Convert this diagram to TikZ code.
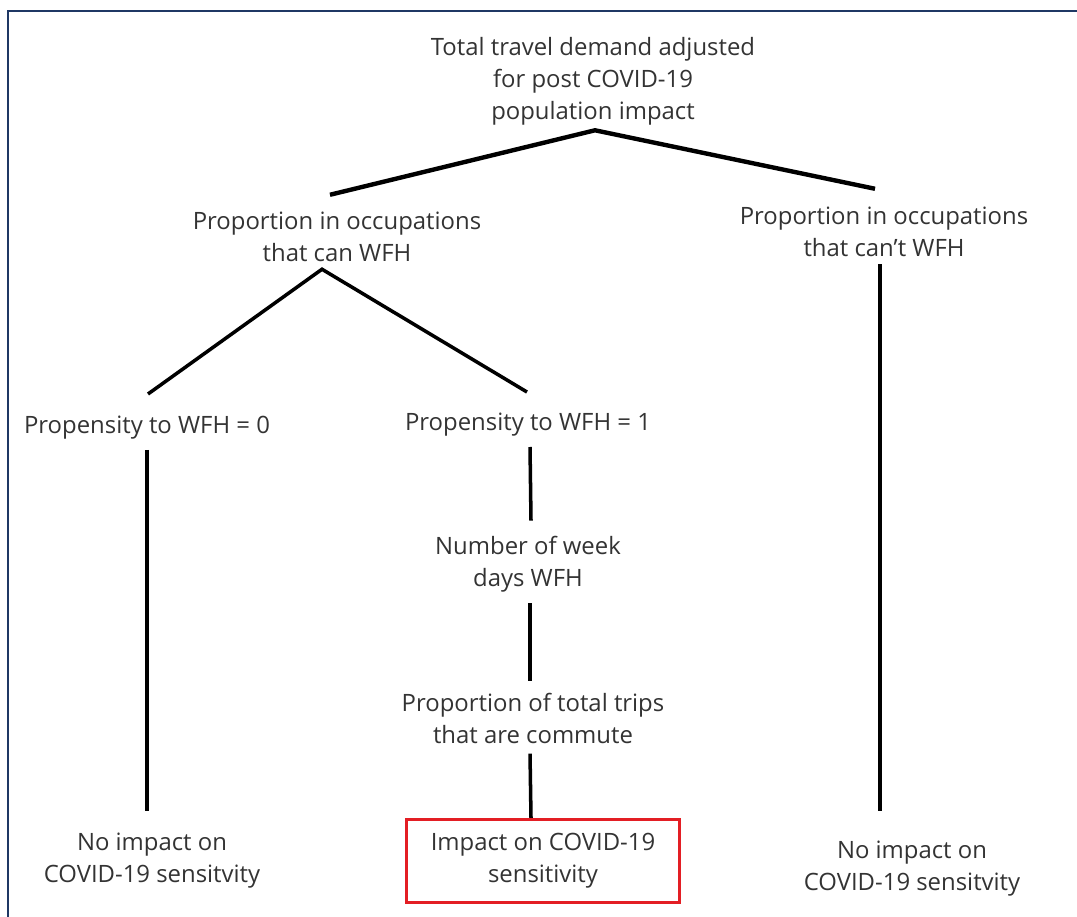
\documentclass[tikz,border=0pt]{standalone}
\usepackage{fontspec}
\setmainfont{Open Sans}
\usetikzlibrary{positioning}
\definecolor{txtgray}{HTML}{333333}
\definecolor{framenavy}{HTML}{1F3864}
\definecolor{boxred}{HTML}{E31E24}

\begin{document}
\begin{tikzpicture}[x=0.02cm,y=-0.02cm,
  every node/.style={font=\fontsize{13.6}{18.2}\selectfont,text=txtgray,align=center,inner sep=0pt},
  trunk/.style={line width=2.5pt},
  link/.style={line width=2pt},
  hit/.style={draw=boxred,line width=1.9pt,minimum width=5.46cm,minimum height=1.66cm}]
  \useasboundingbox (0,0) rectangle (1077,916);
  \clip (0,0) rectangle (1077,916);
  \draw[framenavy,line width=1.2pt] (1100,11) -- (8,11) -- (8,930);
  % tree nodes
  \node (top) at (593,81) {Total travel demand adjusted\\for post COVID-19\\population impact};
  \node (can) at (337,237) {Proportion in occupations\\that can WFH};
  \node (cant) at (884,232) {Proportion in occupations\\that can't WFH};
  \node (p0) at (147,428) {Propensity to WFH = 0};
  \node (p1) at (528,425) {Propensity to WFH = 1};
  \node (week) at (528,564) {Number of week\\days WFH};
  \node (trips) at (533,718) {Proportion of total trips\\that are commute};
  \node[hit] (impact) at (543,861) {Impact on COVID-19\\sensitivity};
  \node (noL) at (152,861) {No impact on\\COVID-19 sensitvity};
  \node (noR) at (912,869) {No impact on\\COVID-19 sensitvity};
  % branches
  \draw[trunk] ([shift={(-7,-17)}]can.north) -- ([shift={(2,5)}]top.south) -- ([shift={(-9,-18)}]cant.north);
  \draw[link] ([shift={(1,-22)}]p0.north) -- ([shift={(-15,7)}]can.south) -- ([shift={(-1,-21)}]p1.north);
  \draw[link] ([shift={(0,10)}]p0.south) -- ([shift={(-5,-22)}]noL.north);
  \draw[link] ([shift={(2,10)}]p1.south) -- ([shift={(3,-15)}]week.north);
  \draw[link] ([shift={(2,11)}]week.south) -- ([shift={(-3,-11)}]trips.north);
  \draw[link] ([shift={(-3,10)}]trips.south) -- ([shift={(-12,0)}]impact.north);
  \draw[link] ([shift={(-4,7)}]cant.south) -- ([shift={(-32,-30)}]noR.north);
\end{tikzpicture}
\end{document}
